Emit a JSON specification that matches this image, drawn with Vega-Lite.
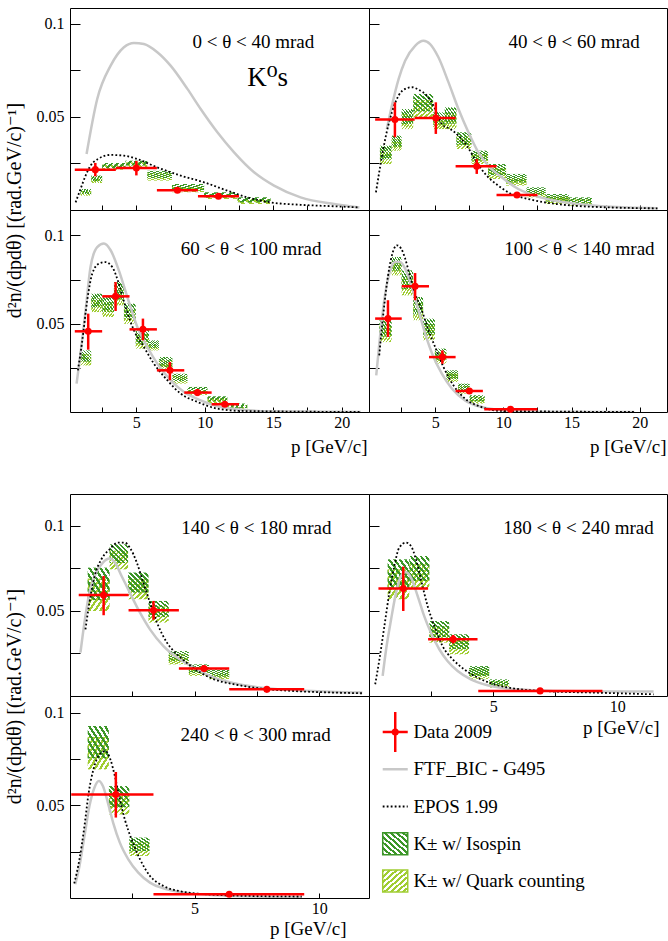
{
"$schema": "https://vega.github.io/schema/vega-lite/v6.json",
"padding": {"left": 3, "top": 7, "right": 0, "bottom": 0},
"background": "white",
"columns": 2,
"spacing": 0,
"bounds": "flush",
"config": {
  "font": "Liberation Serif, Times New Roman, DejaVu Serif, serif",
  "view": {"stroke": "black", "strokeWidth": 1},
  "axis": {"domain": false, "grid": false, "tickColor": "black", "tickWidth": 1, "labelFont": "Liberation Serif, Times New Roman, DejaVu Serif, serif", "labelFontSize": 16, "labelColor": "black", "titleFont": "Liberation Serif, Times New Roman, DejaVu Serif, serif", "titleFontSize": 19, "titleFontWeight": "normal", "titleColor": "black", "labelOverlap": false, "labelFlush": false},
  "text": {"font": "Liberation Serif, Times New Roman, DejaVu Serif, serif"},
  "point": {"opacity": 1},
  "circle": {"opacity": 1},
  "tick": {"opacity": 1}
},
"datasets": {
  "pts": [
    {"panel":"A","p":2.0,"v":0.0217,"vlo":0.0181,"vhi":0.0253,"plo":0.5,"phi":3.5},
    {"panel":"A","p":5.0,"v":0.0226,"vlo":0.0186,"vhi":0.0264,"plo":3.5,"phi":6.5},
    {"panel":"A","p":8.0,"v":0.0106,"vlo":0.0096,"vhi":0.0116,"plo":6.5,"phi":9.5},
    {"panel":"A","p":11.0,"v":0.0074,"vlo":0.0066,"vhi":0.0082,"plo":9.5,"phi":12.5},
    {"panel":"B","p":2.05,"v":0.0486,"vlo":0.0391,"vhi":0.0579,"plo":0.6,"phi":3.5},
    {"panel":"B","p":5.05,"v":0.0495,"vlo":0.0409,"vhi":0.0579,"plo":3.5,"phi":6.5},
    {"panel":"B","p":8.05,"v":0.0235,"vlo":0.0194,"vhi":0.0274,"plo":6.5,"phi":9.5},
    {"panel":"B","p":11.0,"v":0.0081,"vlo":0.0068,"vhi":0.0094,"plo":9.5,"phi":12.5},
    {"panel":"C","p":1.48,"v":0.0457,"vlo":0.0353,"vhi":0.0557,"plo":0.5,"phi":2.5},
    {"panel":"C","p":3.48,"v":0.0655,"vlo":0.0572,"vhi":0.0736,"plo":2.5,"phi":4.5},
    {"panel":"C","p":5.48,"v":0.0468,"vlo":0.0406,"vhi":0.0529,"plo":4.5,"phi":6.5},
    {"panel":"C","p":7.45,"v":0.0236,"vlo":0.018,"vhi":0.0283,"plo":6.5,"phi":8.5},
    {"panel":"C","p":9.46,"v":0.011,"vlo":0.009,"vhi":0.013,"plo":8.5,"phi":10.5},
    {"panel":"C","p":11.46,"v":0.0044,"vlo":0.0034,"vhi":0.0054,"plo":10.5,"phi":12.5},
    {"panel":"D","p":1.54,"v":0.0529,"vlo":0.0425,"vhi":0.0633,"plo":0.6,"phi":2.55},
    {"panel":"D","p":3.53,"v":0.0712,"vlo":0.0633,"vhi":0.0787,"plo":2.55,"phi":4.55},
    {"panel":"D","p":5.53,"v":0.0311,"vlo":0.0273,"vhi":0.0349,"plo":4.55,"phi":6.5},
    {"panel":"D","p":7.51,"v":0.0119,"vlo":0.0104,"vhi":0.0134,"plo":6.5,"phi":8.5},
    {"panel":"D","p":10.53,"v":0.0015,"vlo":0.0008,"vhi":0.0022,"plo":8.6,"phi":12.5},
    {"panel":"E","p":1.35,"v":0.0594,"vlo":0.0475,"vhi":0.0706,"plo":0.35,"phi":2.35},
    {"panel":"E","p":3.35,"v":0.0504,"vlo":0.0449,"vhi":0.0559,"plo":2.35,"phi":4.37},
    {"panel":"E","p":5.38,"v":0.0161,"vlo":0.0146,"vhi":0.0176,"plo":4.37,"phi":6.39},
    {"panel":"E","p":7.9,"v":0.0039,"vlo":0.0031,"vhi":0.0047,"plo":6.39,"phi":9.4},
    {"panel":"F","p":1.38,"v":0.0632,"vlo":0.05,"vhi":0.0761,"plo":0.38,"phi":2.38},
    {"panel":"F","p":3.39,"v":0.0334,"vlo":0.0309,"vhi":0.0359,"plo":2.38,"phi":4.37},
    {"panel":"F","p":6.89,"v":0.003,"vlo":0.0022,"vhi":0.0038,"plo":4.4,"phi":9.4},
    {"panel":"G","p":1.84,"v":0.0558,"vlo":0.0434,"vhi":0.068,"plo":0.05,"phi":3.35},
    {"panel":"G","p":6.39,"v":0.002,"vlo":0.0012,"vhi":0.0028,"plo":3.35,"phi":9.4}
  ],
  "boxes": [
    {"panel":"A","model":"iso","p0":0.92,"p1":1.7,"lo":0.0086,"hi":0.0113},
    {"panel":"A","model":"iso","p0":1.7,"p1":2.5,"lo":0.0155,"hi":0.0185},
    {"panel":"A","model":"iso","p0":2.5,"p1":4.2,"lo":0.0226,"hi":0.0253},
    {"panel":"A","model":"iso","p0":4.2,"p1":5.8,"lo":0.0239,"hi":0.0265},
    {"panel":"A","model":"iso","p0":5.8,"p1":7.6,"lo":0.0171,"hi":0.0211},
    {"panel":"A","model":"iso","p0":7.6,"p1":9.95,"lo":0.0106,"hi":0.014},
    {"panel":"A","model":"iso","p0":9.95,"p1":12.4,"lo":0.0068,"hi":0.0095},
    {"panel":"A","model":"iso","p0":12.4,"p1":14.8,"lo":0.0041,"hi":0.0068},
    {"panel":"A","model":"qc","p0":0.92,"p1":1.7,"lo":0.0077,"hi":0.0104},
    {"panel":"A","model":"qc","p0":1.7,"p1":2.5,"lo":0.0145,"hi":0.0175},
    {"panel":"A","model":"qc","p0":2.5,"p1":4.2,"lo":0.0217,"hi":0.0244},
    {"panel":"A","model":"qc","p0":4.2,"p1":5.8,"lo":0.023,"hi":0.0256},
    {"panel":"A","model":"qc","p0":5.8,"p1":7.6,"lo":0.0158,"hi":0.0198},
    {"panel":"A","model":"qc","p0":7.6,"p1":9.95,"lo":0.0095,"hi":0.0129},
    {"panel":"A","model":"qc","p0":9.95,"p1":12.4,"lo":0.0059,"hi":0.0086},
    {"panel":"A","model":"qc","p0":12.4,"p1":14.8,"lo":0.0032,"hi":0.0059},
    {"panel":"B","model":"iso","p0":0.95,"p1":1.81,"lo":0.0272,"hi":0.0346},
    {"panel":"B","model":"iso","p0":1.81,"p1":2.54,"lo":0.0339,"hi":0.04},
    {"panel":"B","model":"iso","p0":2.54,"p1":3.39,"lo":0.0462,"hi":0.0543},
    {"panel":"B","model":"iso","p0":3.39,"p1":4.85,"lo":0.053,"hi":0.0624},
    {"panel":"B","model":"iso","p0":4.85,"p1":5.7,"lo":0.0458,"hi":0.0525},
    {"panel":"B","model":"iso","p0":5.7,"p1":6.56,"lo":0.0464,"hi":0.0552},
    {"panel":"B","model":"iso","p0":6.56,"p1":7.66,"lo":0.035,"hi":0.0418},
    {"panel":"B","model":"iso","p0":7.66,"p1":8.88,"lo":0.0265,"hi":0.0319},
    {"panel":"B","model":"iso","p0":8.88,"p1":10.2,"lo":0.0187,"hi":0.0247},
    {"panel":"B","model":"iso","p0":10.2,"p1":11.7,"lo":0.0147,"hi":0.0194},
    {"panel":"B","model":"iso","p0":11.7,"p1":13.1,"lo":0.0081,"hi":0.0122},
    {"panel":"B","model":"iso","p0":13.1,"p1":14.8,"lo":0.0045,"hi":0.0086},
    {"panel":"B","model":"iso","p0":14.8,"p1":16.5,"lo":0.0034,"hi":0.0068},
    {"panel":"B","model":"qc","p0":0.95,"p1":1.81,"lo":0.0247,"hi":0.0321},
    {"panel":"B","model":"qc","p0":1.81,"p1":2.54,"lo":0.0319,"hi":0.038},
    {"panel":"B","model":"qc","p0":2.54,"p1":3.39,"lo":0.0435,"hi":0.0516},
    {"panel":"B","model":"qc","p0":3.39,"p1":4.85,"lo":0.0498,"hi":0.0592},
    {"panel":"B","model":"qc","p0":4.85,"p1":5.7,"lo":0.0435,"hi":0.0502},
    {"panel":"B","model":"qc","p0":5.7,"p1":6.56,"lo":0.0435,"hi":0.0523},
    {"panel":"B","model":"qc","p0":6.56,"p1":7.66,"lo":0.0328,"hi":0.0396},
    {"panel":"B","model":"qc","p0":7.66,"p1":8.88,"lo":0.0247,"hi":0.0301},
    {"panel":"B","model":"qc","p0":8.88,"p1":10.2,"lo":0.0167,"hi":0.0227},
    {"panel":"B","model":"qc","p0":10.2,"p1":11.7,"lo":0.0131,"hi":0.0178},
    {"panel":"B","model":"qc","p0":11.7,"p1":13.1,"lo":0.0068,"hi":0.0109},
    {"panel":"B","model":"qc","p0":13.1,"p1":14.8,"lo":0.0032,"hi":0.0073},
    {"panel":"B","model":"qc","p0":14.8,"p1":16.5,"lo":0.0023,"hi":0.0057},
    {"panel":"C","model":"iso","p0":0.87,"p1":1.7,"lo":0.0285,"hi":0.0349},
    {"panel":"C","model":"iso","p0":1.7,"p1":2.51,"lo":0.0592,"hi":0.067},
    {"panel":"C","model":"iso","p0":2.51,"p1":3.36,"lo":0.0566,"hi":0.0651},
    {"panel":"C","model":"iso","p0":3.36,"p1":4.09,"lo":0.0637,"hi":0.0736},
    {"panel":"C","model":"iso","p0":4.09,"p1":4.95,"lo":0.0528,"hi":0.0614},
    {"panel":"C","model":"iso","p0":4.95,"p1":5.92,"lo":0.0387,"hi":0.0472},
    {"panel":"C","model":"iso","p0":5.92,"p1":6.65,"lo":0.0363,"hi":0.0406},
    {"panel":"C","model":"iso","p0":6.65,"p1":7.63,"lo":0.0255,"hi":0.0311},
    {"panel":"C","model":"iso","p0":7.63,"p1":8.73,"lo":0.0175,"hi":0.0217},
    {"panel":"C","model":"iso","p0":8.73,"p1":10.19,"lo":0.0107,"hi":0.0142},
    {"panel":"C","model":"iso","p0":10.19,"p1":11.65,"lo":0.006,"hi":0.0089},
    {"panel":"C","model":"iso","p0":11.65,"p1":13.1,"lo":0.0023,"hi":0.0048},
    {"panel":"C","model":"qc","p0":0.87,"p1":1.7,"lo":0.0264,"hi":0.0328},
    {"panel":"C","model":"qc","p0":1.7,"p1":2.51,"lo":0.0566,"hi":0.0644},
    {"panel":"C","model":"qc","p0":2.51,"p1":3.36,"lo":0.0538,"hi":0.0623},
    {"panel":"C","model":"qc","p0":3.36,"p1":4.09,"lo":0.0604,"hi":0.0703},
    {"panel":"C","model":"qc","p0":4.09,"p1":4.95,"lo":0.05,"hi":0.0586},
    {"panel":"C","model":"qc","p0":4.95,"p1":5.92,"lo":0.0359,"hi":0.0444},
    {"panel":"C","model":"qc","p0":5.92,"p1":6.65,"lo":0.0349,"hi":0.0392},
    {"panel":"C","model":"qc","p0":6.65,"p1":7.63,"lo":0.0236,"hi":0.0292},
    {"panel":"C","model":"qc","p0":7.63,"p1":8.73,"lo":0.0161,"hi":0.0203},
    {"panel":"C","model":"qc","p0":8.73,"p1":10.19,"lo":0.0095,"hi":0.013},
    {"panel":"C","model":"qc","p0":10.19,"p1":11.65,"lo":0.0051,"hi":0.008},
    {"panel":"C","model":"qc","p0":11.65,"p1":13.1,"lo":0.0014,"hi":0.0039},
    {"panel":"D","model":"iso","p0":0.9,"p1":1.81,"lo":0.0427,"hi":0.0519},
    {"panel":"D","model":"iso","p0":1.81,"p1":2.54,"lo":0.08,"hi":0.0878},
    {"panel":"D","model":"iso","p0":2.54,"p1":3.39,"lo":0.0696,"hi":0.0802},
    {"panel":"D","model":"iso","p0":3.39,"p1":4.12,"lo":0.0552,"hi":0.0651},
    {"panel":"D","model":"iso","p0":4.12,"p1":4.98,"lo":0.0437,"hi":0.0529},
    {"panel":"D","model":"iso","p0":4.98,"p1":5.83,"lo":0.0295,"hi":0.0359},
    {"panel":"D","model":"iso","p0":5.83,"p1":6.68,"lo":0.0187,"hi":0.0236},
    {"panel":"D","model":"iso","p0":6.68,"p1":7.53,"lo":0.0118,"hi":0.0161},
    {"panel":"D","model":"iso","p0":7.53,"p1":8.63,"lo":0.006,"hi":0.0095},
    {"panel":"D","model":"qc","p0":0.9,"p1":1.81,"lo":0.0396,"hi":0.0488},
    {"panel":"D","model":"qc","p0":1.81,"p1":2.54,"lo":0.0774,"hi":0.0852},
    {"panel":"D","model":"qc","p0":2.54,"p1":3.39,"lo":0.0661,"hi":0.0767},
    {"panel":"D","model":"qc","p0":3.39,"p1":4.12,"lo":0.0519,"hi":0.0618},
    {"panel":"D","model":"qc","p0":4.12,"p1":4.98,"lo":0.0406,"hi":0.0498},
    {"panel":"D","model":"qc","p0":4.98,"p1":5.83,"lo":0.0274,"hi":0.0338},
    {"panel":"D","model":"qc","p0":5.83,"p1":6.68,"lo":0.017,"hi":0.0219},
    {"panel":"D","model":"qc","p0":6.68,"p1":7.53,"lo":0.0104,"hi":0.0147},
    {"panel":"D","model":"qc","p0":7.53,"p1":8.63,"lo":0.0048,"hi":0.0083},
    {"panel":"E","model":"iso","p0":0.71,"p1":1.59,"lo":0.0564,"hi":0.0755},
    {"panel":"E","model":"iso","p0":1.59,"p1":2.33,"lo":0.0782,"hi":0.0892},
    {"panel":"E","model":"iso","p0":2.33,"p1":3.15,"lo":0.0608,"hi":0.0726},
    {"panel":"E","model":"iso","p0":3.15,"p1":3.96,"lo":0.0464,"hi":0.0559},
    {"panel":"E","model":"iso","p0":3.96,"p1":4.77,"lo":0.0206,"hi":0.0265},
    {"panel":"E","model":"iso","p0":4.77,"p1":5.58,"lo":0.0135,"hi":0.0186},
    {"panel":"E","model":"iso","p0":5.58,"p1":6.39,"lo":0.0113,"hi":0.0157},
    {"panel":"E","model":"qc","p0":0.71,"p1":1.59,"lo":0.05,"hi":0.0691},
    {"panel":"E","model":"qc","p0":1.59,"p1":2.33,"lo":0.0745,"hi":0.0855},
    {"panel":"E","model":"qc","p0":2.33,"p1":3.15,"lo":0.0569,"hi":0.0687},
    {"panel":"E","model":"qc","p0":3.15,"p1":3.96,"lo":0.0432,"hi":0.0527},
    {"panel":"E","model":"qc","p0":3.96,"p1":4.77,"lo":0.0186,"hi":0.0245},
    {"panel":"E","model":"qc","p0":4.77,"p1":5.58,"lo":0.0118,"hi":0.0169},
    {"panel":"E","model":"qc","p0":5.58,"p1":6.39,"lo":0.0098,"hi":0.0142},
    {"panel":"F","model":"iso","p0":0.75,"p1":1.62,"lo":0.0628,"hi":0.0804},
    {"panel":"F","model":"iso","p0":1.62,"p1":2.43,"lo":0.0677,"hi":0.0824},
    {"panel":"F","model":"iso","p0":2.43,"p1":3.23,"lo":0.0346,"hi":0.0441},
    {"panel":"F","model":"iso","p0":3.23,"p1":4.03,"lo":0.0275,"hi":0.0363},
    {"panel":"F","model":"iso","p0":4.03,"p1":4.84,"lo":0.0118,"hi":0.0176},
    {"panel":"F","model":"iso","p0":4.84,"p1":5.64,"lo":0.0061,"hi":0.0098},
    {"panel":"F","model":"qc","p0":0.75,"p1":1.62,"lo":0.0569,"hi":0.0745},
    {"panel":"F","model":"qc","p0":1.62,"p1":2.43,"lo":0.0628,"hi":0.0775},
    {"panel":"F","model":"qc","p0":2.43,"p1":3.23,"lo":0.0314,"hi":0.0409},
    {"panel":"F","model":"qc","p0":3.23,"p1":4.03,"lo":0.0245,"hi":0.0333},
    {"panel":"F","model":"qc","p0":4.03,"p1":4.84,"lo":0.0098,"hi":0.0156},
    {"panel":"F","model":"qc","p0":4.84,"p1":5.64,"lo":0.0049,"hi":0.0086},
    {"panel":"G","model":"iso","p0":0.71,"p1":1.56,"lo":0.0753,"hi":0.0928},
    {"panel":"G","model":"iso","p0":1.56,"p1":2.38,"lo":0.0489,"hi":0.0604},
    {"panel":"G","model":"iso","p0":2.38,"p1":3.19,"lo":0.0252,"hi":0.0326},
    {"panel":"G","model":"qc","p0":0.71,"p1":1.56,"lo":0.0694,"hi":0.0869},
    {"panel":"G","model":"qc","p0":1.56,"p1":2.38,"lo":0.0451,"hi":0.0566},
    {"panel":"G","model":"qc","p0":2.38,"p1":3.19,"lo":0.0227,"hi":0.0301}
  ],
  "ftf": [
    {"panel":"A","p":1.36,"v":0.0301},{"panel":"A","p":2.14,"v":0.0597},{"panel":"A","p":3.12,"v":0.0776},{"panel":"A","p":4.09,"v":0.0875},{"panel":"A","p":4.82,"v":0.0898},{"panel":"A","p":5.55,"v":0.0892},{"panel":"A","p":6.53,"v":0.0848},{"panel":"A","p":7.5,"v":0.0776},{"panel":"A","p":8.73,"v":0.0651},{"panel":"A","p":9.7,"v":0.0543},{"panel":"A","p":10.92,"v":0.0418},{"panel":"A","p":12.14,"v":0.031},{"panel":"A","p":13.6,"v":0.0203},{"panel":"A","p":15.06,"v":0.0131},{"panel":"A","p":17.0,"v":0.0068},{"panel":"A","p":19.45,"v":0.0032},{"panel":"A","p":21.3,"v":0.0014},
    {"panel":"B","p":1.46,"v":0.0435},{"panel":"B","p":1.83,"v":0.0561},{"panel":"B","p":2.32,"v":0.0704},{"panel":"B","p":2.8,"v":0.0803},{"panel":"B","p":3.53,"v":0.0883},{"panel":"B","p":4.15,"v":0.091},{"panel":"B","p":4.63,"v":0.0892},{"panel":"B","p":5.24,"v":0.0821},{"panel":"B","p":5.98,"v":0.0686},{"panel":"B","p":6.71,"v":0.0543},{"panel":"B","p":7.44,"v":0.0418},{"panel":"B","p":8.17,"v":0.031},{"panel":"B","p":8.9,"v":0.0238},{"panel":"B","p":9.88,"v":0.0176},{"panel":"B","p":11.1,"v":0.0113},{"panel":"B","p":12.3,"v":0.0077},{"panel":"B","p":13.8,"v":0.005},{"panel":"B","p":15.5,"v":0.0032},{"panel":"B","p":17.2,"v":0.002},{"panel":"B","p":19.1,"v":0.0014},{"panel":"B","p":21.3,"v":0.001},
    {"panel":"C","p":0.63,"v":0.0161},{"panel":"C","p":0.92,"v":0.0331},{"panel":"C","p":1.29,"v":0.0576},{"panel":"C","p":1.65,"v":0.0821},{"panel":"C","p":2.14,"v":0.0934},{"panel":"C","p":2.63,"v":0.0954},{"panel":"C","p":3.12,"v":0.0916},{"panel":"C","p":3.72,"v":0.0802},{"panel":"C","p":4.34,"v":0.0651},{"panel":"C","p":5.07,"v":0.0481},{"panel":"C","p":5.8,"v":0.0368},{"panel":"C","p":6.53,"v":0.0274},{"panel":"C","p":7.5,"v":0.018},{"panel":"C","p":8.48,"v":0.0113},{"panel":"C","p":9.7,"v":0.0066},{"panel":"C","p":10.92,"v":0.0032},{"panel":"C","p":12.63,"v":0.0014},{"panel":"C","p":14.58,"v":0.0004},{"panel":"C","p":21.4,"v":0.0},
    {"panel":"D","p":0.68,"v":0.0208},{"panel":"D","p":0.98,"v":0.0444},{"panel":"D","p":1.34,"v":0.067},{"panel":"D","p":1.71,"v":0.0802},{"panel":"D","p":2.07,"v":0.0849},{"panel":"D","p":2.44,"v":0.0849},{"panel":"D","p":2.8,"v":0.0812},{"panel":"D","p":3.29,"v":0.0708},{"panel":"D","p":3.78,"v":0.0576},{"panel":"D","p":4.27,"v":0.0444},{"panel":"D","p":4.88,"v":0.0311},{"panel":"D","p":5.49,"v":0.0217},{"panel":"D","p":6.22,"v":0.0133},{"panel":"D","p":7.19,"v":0.0066},{"panel":"D","p":8.41,"v":0.0028},{"panel":"D","p":9.88,"v":0.001},{"panel":"D","p":12.3,"v":0.0002},{"panel":"D","p":19.6,"v":0.0},
    {"panel":"E","p":0.42,"v":0.0255},{"panel":"E","p":0.58,"v":0.0432},{"panel":"E","p":0.78,"v":0.0608},{"panel":"E","p":1.05,"v":0.0726},{"panel":"E","p":1.32,"v":0.0785},{"panel":"E","p":1.59,"v":0.0808},{"panel":"E","p":1.8,"v":0.0785},{"panel":"E","p":2.07,"v":0.0706},{"panel":"E","p":2.4,"v":0.0608},{"panel":"E","p":2.81,"v":0.049},{"panel":"E","p":3.21,"v":0.0392},{"panel":"E","p":3.75,"v":0.0294},{"panel":"E","p":4.3,"v":0.0226},{"panel":"E","p":4.97,"v":0.0167},{"panel":"E","p":5.78,"v":0.0108},{"panel":"E","p":6.59,"v":0.0075},{"panel":"E","p":7.67,"v":0.0049},{"panel":"E","p":9.02,"v":0.0034},{"panel":"E","p":10.64,"v":0.0024},{"panel":"E","p":11.73,"v":0.002},
    {"panel":"F","p":0.55,"v":0.0118},{"panel":"F","p":0.69,"v":0.0275},{"panel":"F","p":0.89,"v":0.0451},{"panel":"F","p":1.09,"v":0.0608},{"panel":"F","p":1.29,"v":0.0706},{"panel":"F","p":1.49,"v":0.0729},{"panel":"F","p":1.69,"v":0.0696},{"panel":"F","p":1.96,"v":0.0588},{"panel":"F","p":2.22,"v":0.0471},{"panel":"F","p":2.49,"v":0.0373},{"panel":"F","p":2.83,"v":0.0275},{"panel":"F","p":3.16,"v":0.0206},{"panel":"F","p":3.57,"v":0.0147},{"panel":"F","p":4.1,"v":0.0098},{"panel":"F","p":4.77,"v":0.0063},{"panel":"F","p":5.57,"v":0.0044},{"panel":"F","p":6.64,"v":0.0034},{"panel":"F","p":8.39,"v":0.0028},{"panel":"F","p":11.46,"v":0.0026},
    {"panel":"G","p":0.21,"v":0.0074},{"panel":"G","p":0.38,"v":0.0173},{"panel":"G","p":0.58,"v":0.0334},{"panel":"G","p":0.78,"v":0.0496},{"panel":"G","p":0.98,"v":0.0595},{"panel":"G","p":1.16,"v":0.0631},{"panel":"G","p":1.32,"v":0.0604},{"panel":"G","p":1.52,"v":0.0515},{"panel":"G","p":1.73,"v":0.0407},{"panel":"G","p":2.0,"v":0.0299},{"panel":"G","p":2.34,"v":0.0209},{"panel":"G","p":2.74,"v":0.0137},{"panel":"G","p":3.21,"v":0.0083},{"panel":"G","p":3.89,"v":0.0047},{"panel":"G","p":4.84,"v":0.0025},{"panel":"G","p":5.92,"v":0.0015},{"panel":"G","p":7.27,"v":0.0008},{"panel":"G","p":9.3,"v":0.0004}
  ],
  "epos": [
    {"panel":"A","p":0.56,"v":0.0041},{"panel":"A","p":0.92,"v":0.0113},{"panel":"A","p":1.29,"v":0.0185},{"panel":"A","p":1.65,"v":0.0238},{"panel":"A","p":2.2,"v":0.0275},{"panel":"A","p":3.12,"v":0.0296},{"panel":"A","p":4.1,"v":0.0292},{"panel":"A","p":5.07,"v":0.0274},{"panel":"A","p":6.53,"v":0.0229},{"panel":"A","p":8.24,"v":0.0185},{"panel":"A","p":9.94,"v":0.0149},{"panel":"A","p":11.65,"v":0.0104},{"panel":"A","p":13.1,"v":0.0068},{"panel":"A","p":14.8,"v":0.0041},{"panel":"A","p":17.0,"v":0.0028},{"panel":"A","p":19.45,"v":0.002},{"panel":"A","p":21.3,"v":0.0014},
    {"panel":"B","p":0.66,"v":0.0095},{"panel":"B","p":0.98,"v":0.0238},{"panel":"B","p":1.34,"v":0.0382},{"panel":"B","p":1.83,"v":0.0525},{"panel":"B","p":2.32,"v":0.0615},{"panel":"B","p":2.8,"v":0.0651},{"panel":"B","p":3.29,"v":0.066},{"panel":"B","p":3.78,"v":0.0647},{"panel":"B","p":4.39,"v":0.0615},{"panel":"B","p":4.88,"v":0.0561},{"panel":"B","p":5.49,"v":0.0462},{"panel":"B","p":6.1,"v":0.0435},{"panel":"B","p":6.71,"v":0.04},{"panel":"B","p":7.32,"v":0.0346},{"panel":"B","p":8.05,"v":0.0256},{"panel":"B","p":8.78,"v":0.0185},{"panel":"B","p":9.63,"v":0.0131},{"panel":"B","p":10.6,"v":0.0086},{"panel":"B","p":11.83,"v":0.0059},{"panel":"B","p":13.3,"v":0.0038},{"panel":"B","p":15.2,"v":0.0023},{"panel":"B","p":17.7,"v":0.0014},{"panel":"B","p":21.3,"v":0.0009},
    {"panel":"C","p":0.73,"v":0.0236},{"panel":"C","p":1.05,"v":0.0406},{"panel":"C","p":1.41,"v":0.0633},{"panel":"C","p":1.78,"v":0.0784},{"panel":"C","p":2.26,"v":0.084},{"panel":"C","p":2.75,"v":0.0849},{"panel":"C","p":3.24,"v":0.0821},{"panel":"C","p":3.72,"v":0.0727},{"panel":"C","p":4.21,"v":0.0595},{"panel":"C","p":4.82,"v":0.0463},{"panel":"C","p":5.55,"v":0.0368},{"panel":"C","p":6.28,"v":0.0274},{"panel":"C","p":7.26,"v":0.018},{"panel":"C","p":8.24,"v":0.0104},{"panel":"C","p":9.46,"v":0.0057},{"panel":"C","p":10.92,"v":0.0019},{"panel":"C","p":12.63,"v":0.0006},{"panel":"C","p":21.4,"v":0.0},
    {"panel":"D","p":0.9,"v":0.0321},{"panel":"D","p":1.15,"v":0.0519},{"panel":"D","p":1.46,"v":0.0727},{"panel":"D","p":1.83,"v":0.0887},{"panel":"D","p":2.19,"v":0.0944},{"panel":"D","p":2.51,"v":0.0925},{"panel":"D","p":2.8,"v":0.0869},{"panel":"D","p":3.17,"v":0.0764},{"panel":"D","p":3.53,"v":0.067},{"panel":"D","p":4.02,"v":0.0576},{"panel":"D","p":4.51,"v":0.0463},{"panel":"D","p":5.0,"v":0.0368},{"panel":"D","p":5.61,"v":0.0255},{"panel":"D","p":6.34,"v":0.0151},{"panel":"D","p":7.19,"v":0.0076},{"panel":"D","p":8.41,"v":0.0028},{"panel":"D","p":9.88,"v":0.0006},{"panel":"D","p":19.6,"v":0.0},
    {"panel":"E","p":0.62,"v":0.0392},{"panel":"E","p":0.78,"v":0.0549},{"panel":"E","p":0.99,"v":0.0706},{"panel":"E","p":1.26,"v":0.0804},{"panel":"E","p":1.59,"v":0.0863},{"panel":"E","p":1.93,"v":0.0902},{"panel":"E","p":2.2,"v":0.0902},{"panel":"E","p":2.4,"v":0.0873},{"panel":"E","p":2.68,"v":0.0785},{"panel":"E","p":2.94,"v":0.0667},{"panel":"E","p":3.21,"v":0.0549},{"panel":"E","p":3.49,"v":0.0432},{"panel":"E","p":3.89,"v":0.0314},{"panel":"E","p":4.3,"v":0.0245},{"panel":"E","p":4.77,"v":0.0186},{"panel":"E","p":5.24,"v":0.0138},{"panel":"E","p":5.78,"v":0.0098},{"panel":"E","p":6.59,"v":0.0069},{"panel":"E","p":7.67,"v":0.0044},{"panel":"E","p":9.02,"v":0.0029},{"panel":"E","p":10.64,"v":0.002},{"panel":"E","p":11.73,"v":0.0016},
    {"panel":"F","p":0.25,"v":0.0069},{"panel":"F","p":0.42,"v":0.0216},{"panel":"F","p":0.62,"v":0.0412},{"panel":"F","p":0.82,"v":0.0608},{"panel":"F","p":1.02,"v":0.0765},{"panel":"F","p":1.22,"v":0.0873},{"panel":"F","p":1.49,"v":0.0902},{"panel":"F","p":1.69,"v":0.0882},{"panel":"F","p":1.89,"v":0.0804},{"panel":"F","p":2.09,"v":0.0686},{"panel":"F","p":2.36,"v":0.0529},{"panel":"F","p":2.63,"v":0.0412},{"panel":"F","p":2.96,"v":0.0294},{"panel":"F","p":3.37,"v":0.0216},{"panel":"F","p":3.83,"v":0.0157},{"panel":"F","p":4.37,"v":0.0108},{"panel":"F","p":5.04,"v":0.0069},{"panel":"F","p":5.84,"v":0.0044},{"panel":"F","p":7.18,"v":0.0028},{"panel":"F","p":9.05,"v":0.002},{"panel":"F","p":11.46,"v":0.001},
    {"panel":"G","p":0.17,"v":0.0079},{"panel":"G","p":0.38,"v":0.0209},{"panel":"G","p":0.58,"v":0.0388},{"panel":"G","p":0.75,"v":0.0568},{"panel":"G","p":0.94,"v":0.0694},{"panel":"G","p":1.19,"v":0.0775},{"panel":"G","p":1.43,"v":0.0793},{"panel":"G","p":1.62,"v":0.0748},{"panel":"G","p":1.8,"v":0.0658},{"panel":"G","p":2.0,"v":0.0532},{"panel":"G","p":2.2,"v":0.0424},{"panel":"G","p":2.47,"v":0.0317},{"panel":"G","p":2.81,"v":0.0209},{"panel":"G","p":3.21,"v":0.0119},{"panel":"G","p":3.75,"v":0.0065},{"panel":"G","p":4.43,"v":0.0036},{"panel":"G","p":5.51,"v":0.002},{"panel":"G","p":7.27,"v":0.0011},{"panel":"G","p":9.3,"v":0.0008}
  ],
  "titles": [
    {"panel":"A","kind":"range","label":"0 < θ < 40 mrad"},
    {"panel":"A","kind":"particle","label":"K⁰s"},
    {"panel":"B","kind":"range","label":"40 < θ < 60 mrad"},
    {"panel":"C","kind":"range","label":"60 < θ < 100 mrad"},
    {"panel":"D","kind":"range","label":"100 < θ < 140 mrad"},
    {"panel":"E","kind":"range","label":"140 < θ < 180 mrad"},
    {"panel":"F","kind":"range","label":"180 < θ < 240 mrad"},
    {"panel":"G","kind":"range","label":"240 < θ < 300 mrad"}
  ],
  "legend": [
    {"item":"data","order":1,"label":"Data 2009"},
    {"item":"ftf","order":2,"label":"FTF_BIC - G495"},
    {"item":"epos","order":3,"label":"EPOS 1.99"},
    {"item":"iso","order":4,"label":"K± w/ Isospin"},
    {"item":"qc","order":5,"label":"K± w/ Quark counting"}
  ]
},
"concat": [
{
 "width": 299, "height": 202,
 "layer": [
  {"data":{"name":"boxes"},"transform":[{"filter":"datum.panel == 'A' && datum.model == 'qc'"}],
   "mark":{"type":"rect","fill":{"gradient":"linear","x1":0,"y1":0,"x2":1,"y2":1,"stops":[{"offset":0,"color":"#a0cd32"},{"offset":0.0625,"color":"#a0cd32"},{"offset":0.0625,"color":"rgba(255,255,255,0)"},{"offset":0.125,"color":"rgba(255,255,255,0)"},{"offset":0.125,"color":"#a0cd32"},{"offset":0.1875,"color":"#a0cd32"},{"offset":0.1875,"color":"rgba(255,255,255,0)"},{"offset":0.25,"color":"rgba(255,255,255,0)"},{"offset":0.25,"color":"#a0cd32"},{"offset":0.3125,"color":"#a0cd32"},{"offset":0.3125,"color":"rgba(255,255,255,0)"},{"offset":0.375,"color":"rgba(255,255,255,0)"},{"offset":0.375,"color":"#a0cd32"},{"offset":0.4375,"color":"#a0cd32"},{"offset":0.4375,"color":"rgba(255,255,255,0)"},{"offset":0.5,"color":"rgba(255,255,255,0)"},{"offset":0.5,"color":"#a0cd32"},{"offset":0.5625,"color":"#a0cd32"},{"offset":0.5625,"color":"rgba(255,255,255,0)"},{"offset":0.625,"color":"rgba(255,255,255,0)"},{"offset":0.625,"color":"#a0cd32"},{"offset":0.6875,"color":"#a0cd32"},{"offset":0.6875,"color":"rgba(255,255,255,0)"},{"offset":0.75,"color":"rgba(255,255,255,0)"},{"offset":0.75,"color":"#a0cd32"},{"offset":0.8125,"color":"#a0cd32"},{"offset":0.8125,"color":"rgba(255,255,255,0)"},{"offset":0.875,"color":"rgba(255,255,255,0)"},{"offset":0.875,"color":"#a0cd32"},{"offset":0.9375,"color":"#a0cd32"},{"offset":0.9375,"color":"rgba(255,255,255,0)"},{"offset":1,"color":"rgba(255,255,255,0)"}]}},
   "encoding":{
     "x":{"field":"p0","type":"quantitative","scale":{"domain":[0.15,22],"nice":false,"zero":false},"axis":{"values":[2.5,5,7.5,10,12.5,15,17.5,20],"labels":false,"title":null,"tickSize":-5}},
     "x2":{"field":"p1"},
     "y":{"field":"lo","type":"quantitative","scale":{"domain":[0,0.1086],"nice":false,"zero":false},"axis":{"values":[0.025,0.05,0.075,0.1],"labelExpr":"datum.value == 0.05 || datum.value == 0.1 ? datum.label : ''","format":"~g","tickSize":-10,"labelPadding":16,"title":"d²n/(dpdθ) [(rad.GeV/c)⁻¹]","titleX":-56,"titleY":202,"titleAngle":-90,"titleAlign":"center","titleBaseline":"middle","titleFontSize":20}},
     "y2":{"field":"hi"}}},
  {"data":{"name":"boxes"},"transform":[{"filter":"datum.panel == 'A' && datum.model == 'iso'"}],
   "mark":{"type":"rect","fill":{"gradient":"linear","x1":0,"y1":1,"x2":1,"y2":0,"stops":[{"offset":0,"color":"#3c9628"},{"offset":0.0625,"color":"#3c9628"},{"offset":0.0625,"color":"rgba(255,255,255,0)"},{"offset":0.125,"color":"rgba(255,255,255,0)"},{"offset":0.125,"color":"#3c9628"},{"offset":0.1875,"color":"#3c9628"},{"offset":0.1875,"color":"rgba(255,255,255,0)"},{"offset":0.25,"color":"rgba(255,255,255,0)"},{"offset":0.25,"color":"#3c9628"},{"offset":0.3125,"color":"#3c9628"},{"offset":0.3125,"color":"rgba(255,255,255,0)"},{"offset":0.375,"color":"rgba(255,255,255,0)"},{"offset":0.375,"color":"#3c9628"},{"offset":0.4375,"color":"#3c9628"},{"offset":0.4375,"color":"rgba(255,255,255,0)"},{"offset":0.5,"color":"rgba(255,255,255,0)"},{"offset":0.5,"color":"#3c9628"},{"offset":0.5625,"color":"#3c9628"},{"offset":0.5625,"color":"rgba(255,255,255,0)"},{"offset":0.625,"color":"rgba(255,255,255,0)"},{"offset":0.625,"color":"#3c9628"},{"offset":0.6875,"color":"#3c9628"},{"offset":0.6875,"color":"rgba(255,255,255,0)"},{"offset":0.75,"color":"rgba(255,255,255,0)"},{"offset":0.75,"color":"#3c9628"},{"offset":0.8125,"color":"#3c9628"},{"offset":0.8125,"color":"rgba(255,255,255,0)"},{"offset":0.875,"color":"rgba(255,255,255,0)"},{"offset":0.875,"color":"#3c9628"},{"offset":0.9375,"color":"#3c9628"},{"offset":0.9375,"color":"rgba(255,255,255,0)"},{"offset":1,"color":"rgba(255,255,255,0)"}]}},
   "encoding":{"x":{"field":"p0","type":"quantitative"},"x2":{"field":"p1"},"y":{"field":"lo","type":"quantitative"},"y2":{"field":"hi"}}},
  {"data":{"name":"ftf"},"transform":[{"filter":"datum.panel == 'A'"}],"mark":{"type":"line","color":"#c8c8c8","strokeWidth":2.5,"interpolate":"monotone","clip":true},"encoding":{"x":{"field":"p","type":"quantitative"},"y":{"field":"v","type":"quantitative"}}},
  {"data":{"name":"epos"},"transform":[{"filter":"datum.panel == 'A'"}],"mark":{"type":"line","color":"black","strokeWidth":1.8,"strokeDash":[1.8,2.2],"interpolate":"monotone","clip":true},"encoding":{"x":{"field":"p","type":"quantitative"},"y":{"field":"v","type":"quantitative"}}},
  {"data":{"name":"pts"},"transform":[{"filter":"datum.panel == 'A'"}],"mark":{"type":"rule","color":"#ff0000","strokeWidth":2.5},"encoding":{"x":{"field":"plo","type":"quantitative"},"x2":{"field":"phi"},"y":{"field":"v","type":"quantitative"}}},
  {"data":{"name":"pts"},"transform":[{"filter":"datum.panel == 'A'"}],"mark":{"type":"rule","color":"#ff0000","strokeWidth":2.5},"encoding":{"x":{"field":"p","type":"quantitative"},"y":{"field":"vlo","type":"quantitative"},"y2":{"field":"vhi"}}},
  {"data":{"name":"pts"},"transform":[{"filter":"datum.panel == 'A'"}],"mark":{"type":"circle","color":"#ff0000","size":50},"encoding":{"x":{"field":"p","type":"quantitative"},"y":{"field":"v","type":"quantitative"}}},
  {"data":{"name":"titles"},"transform":[{"filter":"datum.panel == 'A' && datum.kind == 'range'"}],"mark":{"type":"text","align":"left","baseline":"alphabetic","fontSize":19,"color":"black"},"encoding":{"x":{"datum":9.1,"type":"quantitative"},"y":{"datum":0.087,"type":"quantitative"},"text":{"field":"label"}}},
  {"data":{"name":"titles"},"transform":[{"filter":"datum.panel == 'A' && datum.kind == 'particle'"}],"mark":{"type":"text","align":"left","baseline":"alphabetic","fontSize":27,"color":"black"},"encoding":{"x":{"datum":13.1,"type":"quantitative"},"y":{"datum":0.0665,"type":"quantitative"},"text":{"field":"label"}}}
 ]
},
{
 "width": 298, "height": 202,
 "layer": [
  {"data":{"name":"boxes"},"transform":[{"filter":"datum.panel == 'B' && datum.model == 'qc'"}],
   "mark":{"type":"rect","fill":{"gradient":"linear","x1":0,"y1":0,"x2":1,"y2":1,"stops":[{"offset":0,"color":"#a0cd32"},{"offset":0.0625,"color":"#a0cd32"},{"offset":0.0625,"color":"rgba(255,255,255,0)"},{"offset":0.125,"color":"rgba(255,255,255,0)"},{"offset":0.125,"color":"#a0cd32"},{"offset":0.1875,"color":"#a0cd32"},{"offset":0.1875,"color":"rgba(255,255,255,0)"},{"offset":0.25,"color":"rgba(255,255,255,0)"},{"offset":0.25,"color":"#a0cd32"},{"offset":0.3125,"color":"#a0cd32"},{"offset":0.3125,"color":"rgba(255,255,255,0)"},{"offset":0.375,"color":"rgba(255,255,255,0)"},{"offset":0.375,"color":"#a0cd32"},{"offset":0.4375,"color":"#a0cd32"},{"offset":0.4375,"color":"rgba(255,255,255,0)"},{"offset":0.5,"color":"rgba(255,255,255,0)"},{"offset":0.5,"color":"#a0cd32"},{"offset":0.5625,"color":"#a0cd32"},{"offset":0.5625,"color":"rgba(255,255,255,0)"},{"offset":0.625,"color":"rgba(255,255,255,0)"},{"offset":0.625,"color":"#a0cd32"},{"offset":0.6875,"color":"#a0cd32"},{"offset":0.6875,"color":"rgba(255,255,255,0)"},{"offset":0.75,"color":"rgba(255,255,255,0)"},{"offset":0.75,"color":"#a0cd32"},{"offset":0.8125,"color":"#a0cd32"},{"offset":0.8125,"color":"rgba(255,255,255,0)"},{"offset":0.875,"color":"rgba(255,255,255,0)"},{"offset":0.875,"color":"#a0cd32"},{"offset":0.9375,"color":"#a0cd32"},{"offset":0.9375,"color":"rgba(255,255,255,0)"},{"offset":1,"color":"rgba(255,255,255,0)"}]}},
   "encoding":{
     "x":{"field":"p0","type":"quantitative","scale":{"domain":[0.15,22],"nice":false,"zero":false},"axis":{"values":[2.5,5,7.5,10,12.5,15,17.5,20],"labels":false,"title":null,"tickSize":-5}},
     "x2":{"field":"p1"},
     "y":{"field":"lo","type":"quantitative","scale":{"domain":[0,0.1086],"nice":false,"zero":false},"axis":{"values":[0.025,0.05,0.075,0.1],"labels":false,"tickSize":-10,"title":null}},
     "y2":{"field":"hi"}}},
  {"data":{"name":"boxes"},"transform":[{"filter":"datum.panel == 'B' && datum.model == 'iso'"}],
   "mark":{"type":"rect","fill":{"gradient":"linear","x1":0,"y1":1,"x2":1,"y2":0,"stops":[{"offset":0,"color":"#3c9628"},{"offset":0.0625,"color":"#3c9628"},{"offset":0.0625,"color":"rgba(255,255,255,0)"},{"offset":0.125,"color":"rgba(255,255,255,0)"},{"offset":0.125,"color":"#3c9628"},{"offset":0.1875,"color":"#3c9628"},{"offset":0.1875,"color":"rgba(255,255,255,0)"},{"offset":0.25,"color":"rgba(255,255,255,0)"},{"offset":0.25,"color":"#3c9628"},{"offset":0.3125,"color":"#3c9628"},{"offset":0.3125,"color":"rgba(255,255,255,0)"},{"offset":0.375,"color":"rgba(255,255,255,0)"},{"offset":0.375,"color":"#3c9628"},{"offset":0.4375,"color":"#3c9628"},{"offset":0.4375,"color":"rgba(255,255,255,0)"},{"offset":0.5,"color":"rgba(255,255,255,0)"},{"offset":0.5,"color":"#3c9628"},{"offset":0.5625,"color":"#3c9628"},{"offset":0.5625,"color":"rgba(255,255,255,0)"},{"offset":0.625,"color":"rgba(255,255,255,0)"},{"offset":0.625,"color":"#3c9628"},{"offset":0.6875,"color":"#3c9628"},{"offset":0.6875,"color":"rgba(255,255,255,0)"},{"offset":0.75,"color":"rgba(255,255,255,0)"},{"offset":0.75,"color":"#3c9628"},{"offset":0.8125,"color":"#3c9628"},{"offset":0.8125,"color":"rgba(255,255,255,0)"},{"offset":0.875,"color":"rgba(255,255,255,0)"},{"offset":0.875,"color":"#3c9628"},{"offset":0.9375,"color":"#3c9628"},{"offset":0.9375,"color":"rgba(255,255,255,0)"},{"offset":1,"color":"rgba(255,255,255,0)"}]}},
   "encoding":{"x":{"field":"p0","type":"quantitative"},"x2":{"field":"p1"},"y":{"field":"lo","type":"quantitative"},"y2":{"field":"hi"}}},
  {"data":{"name":"ftf"},"transform":[{"filter":"datum.panel == 'B'"}],"mark":{"type":"line","color":"#c8c8c8","strokeWidth":2.5,"interpolate":"monotone","clip":true},"encoding":{"x":{"field":"p","type":"quantitative"},"y":{"field":"v","type":"quantitative"}}},
  {"data":{"name":"epos"},"transform":[{"filter":"datum.panel == 'B'"}],"mark":{"type":"line","color":"black","strokeWidth":1.8,"strokeDash":[1.8,2.2],"interpolate":"monotone","clip":true},"encoding":{"x":{"field":"p","type":"quantitative"},"y":{"field":"v","type":"quantitative"}}},
  {"data":{"name":"pts"},"transform":[{"filter":"datum.panel == 'B'"}],"mark":{"type":"rule","color":"#ff0000","strokeWidth":2.5},"encoding":{"x":{"field":"plo","type":"quantitative"},"x2":{"field":"phi"},"y":{"field":"v","type":"quantitative"}}},
  {"data":{"name":"pts"},"transform":[{"filter":"datum.panel == 'B'"}],"mark":{"type":"rule","color":"#ff0000","strokeWidth":2.5},"encoding":{"x":{"field":"p","type":"quantitative"},"y":{"field":"vlo","type":"quantitative"},"y2":{"field":"vhi"}}},
  {"data":{"name":"pts"},"transform":[{"filter":"datum.panel == 'B'"}],"mark":{"type":"circle","color":"#ff0000","size":50},"encoding":{"x":{"field":"p","type":"quantitative"},"y":{"field":"v","type":"quantitative"}}},
  {"data":{"name":"titles"},"transform":[{"filter":"datum.panel == 'B'"}],"mark":{"type":"text","align":"left","baseline":"alphabetic","fontSize":19,"color":"black"},"encoding":{"x":{"datum":10.37,"type":"quantitative"},"y":{"datum":0.087,"type":"quantitative"},"text":{"field":"label"}}}
 ]
},
{
 "width": 299, "height": 202,
 "layer": [
  {"data":{"name":"boxes"},"transform":[{"filter":"datum.panel == 'C' && datum.model == 'qc'"}],
   "mark":{"type":"rect","fill":{"gradient":"linear","x1":0,"y1":0,"x2":1,"y2":1,"stops":[{"offset":0,"color":"#a0cd32"},{"offset":0.0625,"color":"#a0cd32"},{"offset":0.0625,"color":"rgba(255,255,255,0)"},{"offset":0.125,"color":"rgba(255,255,255,0)"},{"offset":0.125,"color":"#a0cd32"},{"offset":0.1875,"color":"#a0cd32"},{"offset":0.1875,"color":"rgba(255,255,255,0)"},{"offset":0.25,"color":"rgba(255,255,255,0)"},{"offset":0.25,"color":"#a0cd32"},{"offset":0.3125,"color":"#a0cd32"},{"offset":0.3125,"color":"rgba(255,255,255,0)"},{"offset":0.375,"color":"rgba(255,255,255,0)"},{"offset":0.375,"color":"#a0cd32"},{"offset":0.4375,"color":"#a0cd32"},{"offset":0.4375,"color":"rgba(255,255,255,0)"},{"offset":0.5,"color":"rgba(255,255,255,0)"},{"offset":0.5,"color":"#a0cd32"},{"offset":0.5625,"color":"#a0cd32"},{"offset":0.5625,"color":"rgba(255,255,255,0)"},{"offset":0.625,"color":"rgba(255,255,255,0)"},{"offset":0.625,"color":"#a0cd32"},{"offset":0.6875,"color":"#a0cd32"},{"offset":0.6875,"color":"rgba(255,255,255,0)"},{"offset":0.75,"color":"rgba(255,255,255,0)"},{"offset":0.75,"color":"#a0cd32"},{"offset":0.8125,"color":"#a0cd32"},{"offset":0.8125,"color":"rgba(255,255,255,0)"},{"offset":0.875,"color":"rgba(255,255,255,0)"},{"offset":0.875,"color":"#a0cd32"},{"offset":0.9375,"color":"#a0cd32"},{"offset":0.9375,"color":"rgba(255,255,255,0)"},{"offset":1,"color":"rgba(255,255,255,0)"}]}},
   "encoding":{
     "x":{"field":"p0","type":"quantitative","scale":{"domain":[0.15,22],"nice":false,"zero":false},"axis":{"values":[2.5,5,7.5,10,12.5,15,17.5,20],"labelExpr":"datum.value % 5 == 0 ? datum.label : ''","format":"~g","labelPadding":7,"tickSize":-5,"title":"p [GeV/c]","titleX":297,"titleY":40,"titleAlign":"right","titleBaseline":"alphabetic"}},
     "x2":{"field":"p1"},
     "y":{"field":"lo","type":"quantitative","scale":{"domain":[0,0.1144],"nice":false,"zero":false},"axis":{"values":[0.025,0.05,0.075,0.1],"labelExpr":"datum.value == 0.05 || datum.value == 0.1 ? datum.label : ''","format":"~g","tickSize":-10,"labelPadding":16,"title":null}},
     "y2":{"field":"hi"}}},
  {"data":{"name":"boxes"},"transform":[{"filter":"datum.panel == 'C' && datum.model == 'iso'"}],
   "mark":{"type":"rect","fill":{"gradient":"linear","x1":0,"y1":1,"x2":1,"y2":0,"stops":[{"offset":0,"color":"#3c9628"},{"offset":0.0625,"color":"#3c9628"},{"offset":0.0625,"color":"rgba(255,255,255,0)"},{"offset":0.125,"color":"rgba(255,255,255,0)"},{"offset":0.125,"color":"#3c9628"},{"offset":0.1875,"color":"#3c9628"},{"offset":0.1875,"color":"rgba(255,255,255,0)"},{"offset":0.25,"color":"rgba(255,255,255,0)"},{"offset":0.25,"color":"#3c9628"},{"offset":0.3125,"color":"#3c9628"},{"offset":0.3125,"color":"rgba(255,255,255,0)"},{"offset":0.375,"color":"rgba(255,255,255,0)"},{"offset":0.375,"color":"#3c9628"},{"offset":0.4375,"color":"#3c9628"},{"offset":0.4375,"color":"rgba(255,255,255,0)"},{"offset":0.5,"color":"rgba(255,255,255,0)"},{"offset":0.5,"color":"#3c9628"},{"offset":0.5625,"color":"#3c9628"},{"offset":0.5625,"color":"rgba(255,255,255,0)"},{"offset":0.625,"color":"rgba(255,255,255,0)"},{"offset":0.625,"color":"#3c9628"},{"offset":0.6875,"color":"#3c9628"},{"offset":0.6875,"color":"rgba(255,255,255,0)"},{"offset":0.75,"color":"rgba(255,255,255,0)"},{"offset":0.75,"color":"#3c9628"},{"offset":0.8125,"color":"#3c9628"},{"offset":0.8125,"color":"rgba(255,255,255,0)"},{"offset":0.875,"color":"rgba(255,255,255,0)"},{"offset":0.875,"color":"#3c9628"},{"offset":0.9375,"color":"#3c9628"},{"offset":0.9375,"color":"rgba(255,255,255,0)"},{"offset":1,"color":"rgba(255,255,255,0)"}]}},
   "encoding":{"x":{"field":"p0","type":"quantitative"},"x2":{"field":"p1"},"y":{"field":"lo","type":"quantitative"},"y2":{"field":"hi"}}},
  {"data":{"name":"ftf"},"transform":[{"filter":"datum.panel == 'C'"}],"mark":{"type":"line","color":"#c8c8c8","strokeWidth":2.5,"interpolate":"monotone","clip":true},"encoding":{"x":{"field":"p","type":"quantitative"},"y":{"field":"v","type":"quantitative"}}},
  {"data":{"name":"epos"},"transform":[{"filter":"datum.panel == 'C'"}],"mark":{"type":"line","color":"black","strokeWidth":1.8,"strokeDash":[1.8,2.2],"interpolate":"monotone","clip":true},"encoding":{"x":{"field":"p","type":"quantitative"},"y":{"field":"v","type":"quantitative"}}},
  {"data":{"name":"pts"},"transform":[{"filter":"datum.panel == 'C'"}],"mark":{"type":"rule","color":"#ff0000","strokeWidth":2.5},"encoding":{"x":{"field":"plo","type":"quantitative"},"x2":{"field":"phi"},"y":{"field":"v","type":"quantitative"}}},
  {"data":{"name":"pts"},"transform":[{"filter":"datum.panel == 'C'"}],"mark":{"type":"rule","color":"#ff0000","strokeWidth":2.5},"encoding":{"x":{"field":"p","type":"quantitative"},"y":{"field":"vlo","type":"quantitative"},"y2":{"field":"vhi"}}},
  {"data":{"name":"pts"},"transform":[{"filter":"datum.panel == 'C'"}],"mark":{"type":"circle","color":"#ff0000","size":50},"encoding":{"x":{"field":"p","type":"quantitative"},"y":{"field":"v","type":"quantitative"}}},
  {"data":{"name":"titles"},"transform":[{"filter":"datum.panel == 'C'"}],"mark":{"type":"text","align":"left","baseline":"alphabetic","fontSize":19,"color":"black"},"encoding":{"x":{"datum":8.24,"type":"quantitative"},"y":{"datum":0.0887,"type":"quantitative"},"text":{"field":"label"}}}
 ]
},
{
 "width": 298, "height": 202,
 "layer": [
  {"data":{"name":"boxes"},"transform":[{"filter":"datum.panel == 'D' && datum.model == 'qc'"}],
   "mark":{"type":"rect","fill":{"gradient":"linear","x1":0,"y1":0,"x2":1,"y2":1,"stops":[{"offset":0,"color":"#a0cd32"},{"offset":0.0625,"color":"#a0cd32"},{"offset":0.0625,"color":"rgba(255,255,255,0)"},{"offset":0.125,"color":"rgba(255,255,255,0)"},{"offset":0.125,"color":"#a0cd32"},{"offset":0.1875,"color":"#a0cd32"},{"offset":0.1875,"color":"rgba(255,255,255,0)"},{"offset":0.25,"color":"rgba(255,255,255,0)"},{"offset":0.25,"color":"#a0cd32"},{"offset":0.3125,"color":"#a0cd32"},{"offset":0.3125,"color":"rgba(255,255,255,0)"},{"offset":0.375,"color":"rgba(255,255,255,0)"},{"offset":0.375,"color":"#a0cd32"},{"offset":0.4375,"color":"#a0cd32"},{"offset":0.4375,"color":"rgba(255,255,255,0)"},{"offset":0.5,"color":"rgba(255,255,255,0)"},{"offset":0.5,"color":"#a0cd32"},{"offset":0.5625,"color":"#a0cd32"},{"offset":0.5625,"color":"rgba(255,255,255,0)"},{"offset":0.625,"color":"rgba(255,255,255,0)"},{"offset":0.625,"color":"#a0cd32"},{"offset":0.6875,"color":"#a0cd32"},{"offset":0.6875,"color":"rgba(255,255,255,0)"},{"offset":0.75,"color":"rgba(255,255,255,0)"},{"offset":0.75,"color":"#a0cd32"},{"offset":0.8125,"color":"#a0cd32"},{"offset":0.8125,"color":"rgba(255,255,255,0)"},{"offset":0.875,"color":"rgba(255,255,255,0)"},{"offset":0.875,"color":"#a0cd32"},{"offset":0.9375,"color":"#a0cd32"},{"offset":0.9375,"color":"rgba(255,255,255,0)"},{"offset":1,"color":"rgba(255,255,255,0)"}]}},
   "encoding":{
     "x":{"field":"p0","type":"quantitative","scale":{"domain":[0.15,22],"nice":false,"zero":false},"axis":{"values":[2.5,5,7.5,10,12.5,15,17.5,20],"labelExpr":"datum.value % 5 == 0 ? datum.label : ''","format":"~g","labelPadding":7,"tickSize":-5,"title":"p [GeV/c]","titleX":297,"titleY":40,"titleAlign":"right","titleBaseline":"alphabetic"}},
     "x2":{"field":"p1"},
     "y":{"field":"lo","type":"quantitative","scale":{"domain":[0,0.1144],"nice":false,"zero":false},"axis":{"values":[0.025,0.05,0.075,0.1],"labels":false,"tickSize":-10,"title":null}},
     "y2":{"field":"hi"}}},
  {"data":{"name":"boxes"},"transform":[{"filter":"datum.panel == 'D' && datum.model == 'iso'"}],
   "mark":{"type":"rect","fill":{"gradient":"linear","x1":0,"y1":1,"x2":1,"y2":0,"stops":[{"offset":0,"color":"#3c9628"},{"offset":0.0625,"color":"#3c9628"},{"offset":0.0625,"color":"rgba(255,255,255,0)"},{"offset":0.125,"color":"rgba(255,255,255,0)"},{"offset":0.125,"color":"#3c9628"},{"offset":0.1875,"color":"#3c9628"},{"offset":0.1875,"color":"rgba(255,255,255,0)"},{"offset":0.25,"color":"rgba(255,255,255,0)"},{"offset":0.25,"color":"#3c9628"},{"offset":0.3125,"color":"#3c9628"},{"offset":0.3125,"color":"rgba(255,255,255,0)"},{"offset":0.375,"color":"rgba(255,255,255,0)"},{"offset":0.375,"color":"#3c9628"},{"offset":0.4375,"color":"#3c9628"},{"offset":0.4375,"color":"rgba(255,255,255,0)"},{"offset":0.5,"color":"rgba(255,255,255,0)"},{"offset":0.5,"color":"#3c9628"},{"offset":0.5625,"color":"#3c9628"},{"offset":0.5625,"color":"rgba(255,255,255,0)"},{"offset":0.625,"color":"rgba(255,255,255,0)"},{"offset":0.625,"color":"#3c9628"},{"offset":0.6875,"color":"#3c9628"},{"offset":0.6875,"color":"rgba(255,255,255,0)"},{"offset":0.75,"color":"rgba(255,255,255,0)"},{"offset":0.75,"color":"#3c9628"},{"offset":0.8125,"color":"#3c9628"},{"offset":0.8125,"color":"rgba(255,255,255,0)"},{"offset":0.875,"color":"rgba(255,255,255,0)"},{"offset":0.875,"color":"#3c9628"},{"offset":0.9375,"color":"#3c9628"},{"offset":0.9375,"color":"rgba(255,255,255,0)"},{"offset":1,"color":"rgba(255,255,255,0)"}]}},
   "encoding":{"x":{"field":"p0","type":"quantitative"},"x2":{"field":"p1"},"y":{"field":"lo","type":"quantitative"},"y2":{"field":"hi"}}},
  {"data":{"name":"ftf"},"transform":[{"filter":"datum.panel == 'D'"}],"mark":{"type":"line","color":"#c8c8c8","strokeWidth":2.5,"interpolate":"monotone","clip":true},"encoding":{"x":{"field":"p","type":"quantitative"},"y":{"field":"v","type":"quantitative"}}},
  {"data":{"name":"epos"},"transform":[{"filter":"datum.panel == 'D'"}],"mark":{"type":"line","color":"black","strokeWidth":1.8,"strokeDash":[1.8,2.2],"interpolate":"monotone","clip":true},"encoding":{"x":{"field":"p","type":"quantitative"},"y":{"field":"v","type":"quantitative"}}},
  {"data":{"name":"pts"},"transform":[{"filter":"datum.panel == 'D'"}],"mark":{"type":"rule","color":"#ff0000","strokeWidth":2.5},"encoding":{"x":{"field":"plo","type":"quantitative"},"x2":{"field":"phi"},"y":{"field":"v","type":"quantitative"}}},
  {"data":{"name":"pts"},"transform":[{"filter":"datum.panel == 'D'"}],"mark":{"type":"rule","color":"#ff0000","strokeWidth":2.5},"encoding":{"x":{"field":"p","type":"quantitative"},"y":{"field":"vlo","type":"quantitative"},"y2":{"field":"vhi"}}},
  {"data":{"name":"pts"},"transform":[{"filter":"datum.panel == 'D'"}],"mark":{"type":"circle","color":"#ff0000","size":50},"encoding":{"x":{"field":"p","type":"quantitative"},"y":{"field":"v","type":"quantitative"}}},
  {"data":{"name":"titles"},"transform":[{"filter":"datum.panel == 'D'"}],"mark":{"type":"text","align":"left","baseline":"alphabetic","fontSize":19,"color":"black"},"encoding":{"x":{"datum":10.07,"type":"quantitative"},"y":{"datum":0.0887,"type":"quantitative"},"text":{"field":"label"}}}
 ]
},
{"width": 299, "height": 82, "view": {"stroke": null}, "data": {"values": []}, "mark": "point"},
{"width": 298, "height": 82, "view": {"stroke": null}, "data": {"values": []}, "mark": "point"},
{
 "width": 299, "height": 202,
 "layer": [
  {"data":{"name":"boxes"},"transform":[{"filter":"datum.panel == 'E' && datum.model == 'qc'"}],
   "mark":{"type":"rect","fill":{"gradient":"linear","x1":0,"y1":0,"x2":1,"y2":1,"stops":[{"offset":0,"color":"#a0cd32"},{"offset":0.0625,"color":"#a0cd32"},{"offset":0.0625,"color":"rgba(255,255,255,0)"},{"offset":0.125,"color":"rgba(255,255,255,0)"},{"offset":0.125,"color":"#a0cd32"},{"offset":0.1875,"color":"#a0cd32"},{"offset":0.1875,"color":"rgba(255,255,255,0)"},{"offset":0.25,"color":"rgba(255,255,255,0)"},{"offset":0.25,"color":"#a0cd32"},{"offset":0.3125,"color":"#a0cd32"},{"offset":0.3125,"color":"rgba(255,255,255,0)"},{"offset":0.375,"color":"rgba(255,255,255,0)"},{"offset":0.375,"color":"#a0cd32"},{"offset":0.4375,"color":"#a0cd32"},{"offset":0.4375,"color":"rgba(255,255,255,0)"},{"offset":0.5,"color":"rgba(255,255,255,0)"},{"offset":0.5,"color":"#a0cd32"},{"offset":0.5625,"color":"#a0cd32"},{"offset":0.5625,"color":"rgba(255,255,255,0)"},{"offset":0.625,"color":"rgba(255,255,255,0)"},{"offset":0.625,"color":"#a0cd32"},{"offset":0.6875,"color":"#a0cd32"},{"offset":0.6875,"color":"rgba(255,255,255,0)"},{"offset":0.75,"color":"rgba(255,255,255,0)"},{"offset":0.75,"color":"#a0cd32"},{"offset":0.8125,"color":"#a0cd32"},{"offset":0.8125,"color":"rgba(255,255,255,0)"},{"offset":0.875,"color":"rgba(255,255,255,0)"},{"offset":0.875,"color":"#a0cd32"},{"offset":0.9375,"color":"#a0cd32"},{"offset":0.9375,"color":"rgba(255,255,255,0)"},{"offset":1,"color":"rgba(255,255,255,0)"}]}},
   "encoding":{
     "x":{"field":"p0","type":"quantitative","scale":{"domain":[0,12],"nice":false,"zero":false},"axis":{"values":[2.5,5,7.5,10],"labels":false,"title":null,"tickSize":-5}},
     "x2":{"field":"p1"},
     "y":{"field":"lo","type":"quantitative","scale":{"domain":[0,0.1188],"nice":false,"zero":false},"axis":{"values":[0.025,0.05,0.075,0.1],"labelExpr":"datum.value == 0.05 || datum.value == 0.1 ? datum.label : ''","format":"~g","tickSize":-10,"labelPadding":16,"title":"d²n/(dpdθ) [(rad.GeV/c)⁻¹]","titleX":-56,"titleY":202,"titleAngle":-90,"titleAlign":"center","titleBaseline":"middle","titleFontSize":20}},
     "y2":{"field":"hi"}}},
  {"data":{"name":"boxes"},"transform":[{"filter":"datum.panel == 'E' && datum.model == 'iso'"}],
   "mark":{"type":"rect","fill":{"gradient":"linear","x1":0,"y1":1,"x2":1,"y2":0,"stops":[{"offset":0,"color":"#3c9628"},{"offset":0.0625,"color":"#3c9628"},{"offset":0.0625,"color":"rgba(255,255,255,0)"},{"offset":0.125,"color":"rgba(255,255,255,0)"},{"offset":0.125,"color":"#3c9628"},{"offset":0.1875,"color":"#3c9628"},{"offset":0.1875,"color":"rgba(255,255,255,0)"},{"offset":0.25,"color":"rgba(255,255,255,0)"},{"offset":0.25,"color":"#3c9628"},{"offset":0.3125,"color":"#3c9628"},{"offset":0.3125,"color":"rgba(255,255,255,0)"},{"offset":0.375,"color":"rgba(255,255,255,0)"},{"offset":0.375,"color":"#3c9628"},{"offset":0.4375,"color":"#3c9628"},{"offset":0.4375,"color":"rgba(255,255,255,0)"},{"offset":0.5,"color":"rgba(255,255,255,0)"},{"offset":0.5,"color":"#3c9628"},{"offset":0.5625,"color":"#3c9628"},{"offset":0.5625,"color":"rgba(255,255,255,0)"},{"offset":0.625,"color":"rgba(255,255,255,0)"},{"offset":0.625,"color":"#3c9628"},{"offset":0.6875,"color":"#3c9628"},{"offset":0.6875,"color":"rgba(255,255,255,0)"},{"offset":0.75,"color":"rgba(255,255,255,0)"},{"offset":0.75,"color":"#3c9628"},{"offset":0.8125,"color":"#3c9628"},{"offset":0.8125,"color":"rgba(255,255,255,0)"},{"offset":0.875,"color":"rgba(255,255,255,0)"},{"offset":0.875,"color":"#3c9628"},{"offset":0.9375,"color":"#3c9628"},{"offset":0.9375,"color":"rgba(255,255,255,0)"},{"offset":1,"color":"rgba(255,255,255,0)"}]}},
   "encoding":{"x":{"field":"p0","type":"quantitative"},"x2":{"field":"p1"},"y":{"field":"lo","type":"quantitative"},"y2":{"field":"hi"}}},
  {"data":{"name":"ftf"},"transform":[{"filter":"datum.panel == 'E'"}],"mark":{"type":"line","color":"#c8c8c8","strokeWidth":2.5,"interpolate":"monotone","clip":true},"encoding":{"x":{"field":"p","type":"quantitative"},"y":{"field":"v","type":"quantitative"}}},
  {"data":{"name":"epos"},"transform":[{"filter":"datum.panel == 'E'"}],"mark":{"type":"line","color":"black","strokeWidth":1.8,"strokeDash":[1.8,2.2],"interpolate":"monotone","clip":true},"encoding":{"x":{"field":"p","type":"quantitative"},"y":{"field":"v","type":"quantitative"}}},
  {"data":{"name":"pts"},"transform":[{"filter":"datum.panel == 'E'"}],"mark":{"type":"rule","color":"#ff0000","strokeWidth":2.5},"encoding":{"x":{"field":"plo","type":"quantitative"},"x2":{"field":"phi"},"y":{"field":"v","type":"quantitative"}}},
  {"data":{"name":"pts"},"transform":[{"filter":"datum.panel == 'E'"}],"mark":{"type":"rule","color":"#ff0000","strokeWidth":2.5},"encoding":{"x":{"field":"p","type":"quantitative"},"y":{"field":"vlo","type":"quantitative"},"y2":{"field":"vhi"}}},
  {"data":{"name":"pts"},"transform":[{"filter":"datum.panel == 'E'"}],"mark":{"type":"circle","color":"#ff0000","size":50},"encoding":{"x":{"field":"p","type":"quantitative"},"y":{"field":"v","type":"quantitative"}}},
  {"data":{"name":"titles"},"transform":[{"filter":"datum.panel == 'E'"}],"mark":{"type":"text","align":"left","baseline":"alphabetic","fontSize":19,"color":"black"},"encoding":{"x":{"datum":4.46,"type":"quantitative"},"y":{"datum":0.0951,"type":"quantitative"},"text":{"field":"label"}}}
 ]
},
{
 "width": 298, "height": 202,
 "layer": [
  {"data":{"name":"boxes"},"transform":[{"filter":"datum.panel == 'F' && datum.model == 'qc'"}],
   "mark":{"type":"rect","fill":{"gradient":"linear","x1":0,"y1":0,"x2":1,"y2":1,"stops":[{"offset":0,"color":"#a0cd32"},{"offset":0.0625,"color":"#a0cd32"},{"offset":0.0625,"color":"rgba(255,255,255,0)"},{"offset":0.125,"color":"rgba(255,255,255,0)"},{"offset":0.125,"color":"#a0cd32"},{"offset":0.1875,"color":"#a0cd32"},{"offset":0.1875,"color":"rgba(255,255,255,0)"},{"offset":0.25,"color":"rgba(255,255,255,0)"},{"offset":0.25,"color":"#a0cd32"},{"offset":0.3125,"color":"#a0cd32"},{"offset":0.3125,"color":"rgba(255,255,255,0)"},{"offset":0.375,"color":"rgba(255,255,255,0)"},{"offset":0.375,"color":"#a0cd32"},{"offset":0.4375,"color":"#a0cd32"},{"offset":0.4375,"color":"rgba(255,255,255,0)"},{"offset":0.5,"color":"rgba(255,255,255,0)"},{"offset":0.5,"color":"#a0cd32"},{"offset":0.5625,"color":"#a0cd32"},{"offset":0.5625,"color":"rgba(255,255,255,0)"},{"offset":0.625,"color":"rgba(255,255,255,0)"},{"offset":0.625,"color":"#a0cd32"},{"offset":0.6875,"color":"#a0cd32"},{"offset":0.6875,"color":"rgba(255,255,255,0)"},{"offset":0.75,"color":"rgba(255,255,255,0)"},{"offset":0.75,"color":"#a0cd32"},{"offset":0.8125,"color":"#a0cd32"},{"offset":0.8125,"color":"rgba(255,255,255,0)"},{"offset":0.875,"color":"rgba(255,255,255,0)"},{"offset":0.875,"color":"#a0cd32"},{"offset":0.9375,"color":"#a0cd32"},{"offset":0.9375,"color":"rgba(255,255,255,0)"},{"offset":1,"color":"rgba(255,255,255,0)"}]}},
   "encoding":{
     "x":{"field":"p0","type":"quantitative","scale":{"domain":[0,12],"nice":false,"zero":false},"axis":{"values":[2.5,5,7.5,10],"labelExpr":"datum.value % 5 == 0 ? datum.label : ''","format":"~g","labelPadding":7,"tickSize":-5,"title":"p [GeV/c]","titleX":290,"titleY":37,"titleAlign":"right","titleBaseline":"alphabetic"}},
     "x2":{"field":"p1"},
     "y":{"field":"lo","type":"quantitative","scale":{"domain":[0,0.1188],"nice":false,"zero":false},"axis":{"values":[0.025,0.05,0.075,0.1],"labels":false,"tickSize":-10,"title":null}},
     "y2":{"field":"hi"}}},
  {"data":{"name":"boxes"},"transform":[{"filter":"datum.panel == 'F' && datum.model == 'iso'"}],
   "mark":{"type":"rect","fill":{"gradient":"linear","x1":0,"y1":1,"x2":1,"y2":0,"stops":[{"offset":0,"color":"#3c9628"},{"offset":0.0625,"color":"#3c9628"},{"offset":0.0625,"color":"rgba(255,255,255,0)"},{"offset":0.125,"color":"rgba(255,255,255,0)"},{"offset":0.125,"color":"#3c9628"},{"offset":0.1875,"color":"#3c9628"},{"offset":0.1875,"color":"rgba(255,255,255,0)"},{"offset":0.25,"color":"rgba(255,255,255,0)"},{"offset":0.25,"color":"#3c9628"},{"offset":0.3125,"color":"#3c9628"},{"offset":0.3125,"color":"rgba(255,255,255,0)"},{"offset":0.375,"color":"rgba(255,255,255,0)"},{"offset":0.375,"color":"#3c9628"},{"offset":0.4375,"color":"#3c9628"},{"offset":0.4375,"color":"rgba(255,255,255,0)"},{"offset":0.5,"color":"rgba(255,255,255,0)"},{"offset":0.5,"color":"#3c9628"},{"offset":0.5625,"color":"#3c9628"},{"offset":0.5625,"color":"rgba(255,255,255,0)"},{"offset":0.625,"color":"rgba(255,255,255,0)"},{"offset":0.625,"color":"#3c9628"},{"offset":0.6875,"color":"#3c9628"},{"offset":0.6875,"color":"rgba(255,255,255,0)"},{"offset":0.75,"color":"rgba(255,255,255,0)"},{"offset":0.75,"color":"#3c9628"},{"offset":0.8125,"color":"#3c9628"},{"offset":0.8125,"color":"rgba(255,255,255,0)"},{"offset":0.875,"color":"rgba(255,255,255,0)"},{"offset":0.875,"color":"#3c9628"},{"offset":0.9375,"color":"#3c9628"},{"offset":0.9375,"color":"rgba(255,255,255,0)"},{"offset":1,"color":"rgba(255,255,255,0)"}]}},
   "encoding":{"x":{"field":"p0","type":"quantitative"},"x2":{"field":"p1"},"y":{"field":"lo","type":"quantitative"},"y2":{"field":"hi"}}},
  {"data":{"name":"ftf"},"transform":[{"filter":"datum.panel == 'F'"}],"mark":{"type":"line","color":"#c8c8c8","strokeWidth":2.5,"interpolate":"monotone","clip":true},"encoding":{"x":{"field":"p","type":"quantitative"},"y":{"field":"v","type":"quantitative"}}},
  {"data":{"name":"epos"},"transform":[{"filter":"datum.panel == 'F'"}],"mark":{"type":"line","color":"black","strokeWidth":1.8,"strokeDash":[1.8,2.2],"interpolate":"monotone","clip":true},"encoding":{"x":{"field":"p","type":"quantitative"},"y":{"field":"v","type":"quantitative"}}},
  {"data":{"name":"pts"},"transform":[{"filter":"datum.panel == 'F'"}],"mark":{"type":"rule","color":"#ff0000","strokeWidth":2.5},"encoding":{"x":{"field":"plo","type":"quantitative"},"x2":{"field":"phi"},"y":{"field":"v","type":"quantitative"}}},
  {"data":{"name":"pts"},"transform":[{"filter":"datum.panel == 'F'"}],"mark":{"type":"rule","color":"#ff0000","strokeWidth":2.5},"encoding":{"x":{"field":"p","type":"quantitative"},"y":{"field":"vlo","type":"quantitative"},"y2":{"field":"vhi"}}},
  {"data":{"name":"pts"},"transform":[{"filter":"datum.panel == 'F'"}],"mark":{"type":"circle","color":"#ff0000","size":50},"encoding":{"x":{"field":"p","type":"quantitative"},"y":{"field":"v","type":"quantitative"}}},
  {"data":{"name":"titles"},"transform":[{"filter":"datum.panel == 'F'"}],"mark":{"type":"text","align":"left","baseline":"alphabetic","fontSize":19,"color":"black"},"encoding":{"x":{"datum":5.41,"type":"quantitative"},"y":{"datum":0.0951,"type":"quantitative"},"text":{"field":"label"}}}
 ]
},
{
 "width": 299, "height": 202,
 "layer": [
  {"data":{"name":"boxes"},"transform":[{"filter":"datum.panel == 'G' && datum.model == 'qc'"}],
   "mark":{"type":"rect","fill":{"gradient":"linear","x1":0,"y1":0,"x2":1,"y2":1,"stops":[{"offset":0,"color":"#a0cd32"},{"offset":0.0625,"color":"#a0cd32"},{"offset":0.0625,"color":"rgba(255,255,255,0)"},{"offset":0.125,"color":"rgba(255,255,255,0)"},{"offset":0.125,"color":"#a0cd32"},{"offset":0.1875,"color":"#a0cd32"},{"offset":0.1875,"color":"rgba(255,255,255,0)"},{"offset":0.25,"color":"rgba(255,255,255,0)"},{"offset":0.25,"color":"#a0cd32"},{"offset":0.3125,"color":"#a0cd32"},{"offset":0.3125,"color":"rgba(255,255,255,0)"},{"offset":0.375,"color":"rgba(255,255,255,0)"},{"offset":0.375,"color":"#a0cd32"},{"offset":0.4375,"color":"#a0cd32"},{"offset":0.4375,"color":"rgba(255,255,255,0)"},{"offset":0.5,"color":"rgba(255,255,255,0)"},{"offset":0.5,"color":"#a0cd32"},{"offset":0.5625,"color":"#a0cd32"},{"offset":0.5625,"color":"rgba(255,255,255,0)"},{"offset":0.625,"color":"rgba(255,255,255,0)"},{"offset":0.625,"color":"#a0cd32"},{"offset":0.6875,"color":"#a0cd32"},{"offset":0.6875,"color":"rgba(255,255,255,0)"},{"offset":0.75,"color":"rgba(255,255,255,0)"},{"offset":0.75,"color":"#a0cd32"},{"offset":0.8125,"color":"#a0cd32"},{"offset":0.8125,"color":"rgba(255,255,255,0)"},{"offset":0.875,"color":"rgba(255,255,255,0)"},{"offset":0.875,"color":"#a0cd32"},{"offset":0.9375,"color":"#a0cd32"},{"offset":0.9375,"color":"rgba(255,255,255,0)"},{"offset":1,"color":"rgba(255,255,255,0)"}]}},
   "encoding":{
     "x":{"field":"p0","type":"quantitative","scale":{"domain":[0,12],"nice":false,"zero":false},"axis":{"values":[2.5,5,7.5,10],"labelExpr":"datum.value % 5 == 0 ? datum.label : ''","format":"~g","labelPadding":7,"tickSize":-5,"title":"p [GeV/c]","titleX":276,"titleY":36,"titleAlign":"right","titleBaseline":"alphabetic"}},
     "x2":{"field":"p1"},
     "y":{"field":"lo","type":"quantitative","scale":{"domain":[0,0.109],"nice":false,"zero":false},"axis":{"values":[0.025,0.05,0.075,0.1],"labelExpr":"datum.value == 0.05 || datum.value == 0.1 ? datum.label : ''","format":"~g","tickSize":-10,"labelPadding":16,"title":null}},
     "y2":{"field":"hi"}}},
  {"data":{"name":"boxes"},"transform":[{"filter":"datum.panel == 'G' && datum.model == 'iso'"}],
   "mark":{"type":"rect","fill":{"gradient":"linear","x1":0,"y1":1,"x2":1,"y2":0,"stops":[{"offset":0,"color":"#3c9628"},{"offset":0.0625,"color":"#3c9628"},{"offset":0.0625,"color":"rgba(255,255,255,0)"},{"offset":0.125,"color":"rgba(255,255,255,0)"},{"offset":0.125,"color":"#3c9628"},{"offset":0.1875,"color":"#3c9628"},{"offset":0.1875,"color":"rgba(255,255,255,0)"},{"offset":0.25,"color":"rgba(255,255,255,0)"},{"offset":0.25,"color":"#3c9628"},{"offset":0.3125,"color":"#3c9628"},{"offset":0.3125,"color":"rgba(255,255,255,0)"},{"offset":0.375,"color":"rgba(255,255,255,0)"},{"offset":0.375,"color":"#3c9628"},{"offset":0.4375,"color":"#3c9628"},{"offset":0.4375,"color":"rgba(255,255,255,0)"},{"offset":0.5,"color":"rgba(255,255,255,0)"},{"offset":0.5,"color":"#3c9628"},{"offset":0.5625,"color":"#3c9628"},{"offset":0.5625,"color":"rgba(255,255,255,0)"},{"offset":0.625,"color":"rgba(255,255,255,0)"},{"offset":0.625,"color":"#3c9628"},{"offset":0.6875,"color":"#3c9628"},{"offset":0.6875,"color":"rgba(255,255,255,0)"},{"offset":0.75,"color":"rgba(255,255,255,0)"},{"offset":0.75,"color":"#3c9628"},{"offset":0.8125,"color":"#3c9628"},{"offset":0.8125,"color":"rgba(255,255,255,0)"},{"offset":0.875,"color":"rgba(255,255,255,0)"},{"offset":0.875,"color":"#3c9628"},{"offset":0.9375,"color":"#3c9628"},{"offset":0.9375,"color":"rgba(255,255,255,0)"},{"offset":1,"color":"rgba(255,255,255,0)"}]}},
   "encoding":{"x":{"field":"p0","type":"quantitative"},"x2":{"field":"p1"},"y":{"field":"lo","type":"quantitative"},"y2":{"field":"hi"}}},
  {"data":{"name":"ftf"},"transform":[{"filter":"datum.panel == 'G'"}],"mark":{"type":"line","color":"#c8c8c8","strokeWidth":2.5,"interpolate":"monotone","clip":true},"encoding":{"x":{"field":"p","type":"quantitative"},"y":{"field":"v","type":"quantitative"}}},
  {"data":{"name":"epos"},"transform":[{"filter":"datum.panel == 'G'"}],"mark":{"type":"line","color":"black","strokeWidth":1.8,"strokeDash":[1.8,2.2],"interpolate":"monotone","clip":true},"encoding":{"x":{"field":"p","type":"quantitative"},"y":{"field":"v","type":"quantitative"}}},
  {"data":{"name":"pts"},"transform":[{"filter":"datum.panel == 'G'"}],"mark":{"type":"rule","color":"#ff0000","strokeWidth":2.5,"clip":true},"encoding":{"x":{"field":"plo","type":"quantitative"},"x2":{"field":"phi"},"y":{"field":"v","type":"quantitative"}}},
  {"data":{"name":"pts"},"transform":[{"filter":"datum.panel == 'G'"}],"mark":{"type":"rule","color":"#ff0000","strokeWidth":2.5},"encoding":{"x":{"field":"p","type":"quantitative"},"y":{"field":"vlo","type":"quantitative"},"y2":{"field":"vhi"}}},
  {"data":{"name":"pts"},"transform":[{"filter":"datum.panel == 'G'"}],"mark":{"type":"circle","color":"#ff0000","size":50},"encoding":{"x":{"field":"p","type":"quantitative"},"y":{"field":"v","type":"quantitative"}}},
  {"data":{"name":"titles"},"transform":[{"filter":"datum.panel == 'G'"}],"mark":{"type":"text","align":"left","baseline":"alphabetic","fontSize":19,"color":"black"},"encoding":{"x":{"datum":4.43,"type":"quantitative"},"y":{"datum":0.0847,"type":"quantitative"},"text":{"field":"label"}}}
 ]
},
{
 "width": 298, "height": 202,
 "view": {"stroke": null},
 "layer": [
  {"data":{"name":"legend"},"transform":[{"filter":"datum.item == 'data'"}],"mark":{"type":"rule","color":"#ff0000","strokeWidth":2.5},
   "encoding":{"x":{"datum":0.046,"type":"quantitative","scale":{"domain":[0,1],"nice":false,"zero":false},"axis":null},"x2":{"datum":0.13},"y":{"field":"order","type":"quantitative","scale":{"domain":[0.034,5.456],"nice":false,"zero":false,"reverse":true},"axis":null}}},
  {"data":{"name":"legend"},"transform":[{"filter":"datum.item == 'data'"}],"mark":{"type":"tick","orient":"vertical","size":40,"thickness":2.5,"color":"#ff0000"},
   "encoding":{"x":{"datum":0.088,"type":"quantitative"},"y":{"field":"order","type":"quantitative"}}},
  {"data":{"name":"legend"},"transform":[{"filter":"datum.item == 'data'"}],"mark":{"type":"circle","color":"#ff0000","size":50},
   "encoding":{"x":{"datum":0.088,"type":"quantitative"},"y":{"field":"order","type":"quantitative"}}},
  {"data":{"name":"legend"},"transform":[{"filter":"datum.item == 'ftf'"}],"mark":{"type":"rule","color":"#c8c8c8","strokeWidth":2.5},
   "encoding":{"x":{"datum":0.046,"type":"quantitative"},"x2":{"datum":0.13},"y":{"field":"order","type":"quantitative"}}},
  {"data":{"name":"legend"},"transform":[{"filter":"datum.item == 'epos'"}],"mark":{"type":"rule","color":"black","strokeWidth":1.8,"strokeDash":[1.8,2.2]},
   "encoding":{"x":{"datum":0.046,"type":"quantitative"},"x2":{"datum":0.13},"y":{"field":"order","type":"quantitative"}}},
  {"data":{"name":"legend"},"transform":[{"filter":"datum.item == 'iso'"}],"mark":{"type":"point","shape":"M-1,-0.88H1V0.88H-1Z","size":625,"filled":true,"stroke":"#3c9628","strokeWidth":1.5,"fill":{"gradient":"linear","x1":0,"y1":1,"x2":1,"y2":0,"stops":[{"offset":0,"color":"#3c9628"},{"offset":0.0625,"color":"#3c9628"},{"offset":0.0625,"color":"rgba(255,255,255,0)"},{"offset":0.125,"color":"rgba(255,255,255,0)"},{"offset":0.125,"color":"#3c9628"},{"offset":0.1875,"color":"#3c9628"},{"offset":0.1875,"color":"rgba(255,255,255,0)"},{"offset":0.25,"color":"rgba(255,255,255,0)"},{"offset":0.25,"color":"#3c9628"},{"offset":0.3125,"color":"#3c9628"},{"offset":0.3125,"color":"rgba(255,255,255,0)"},{"offset":0.375,"color":"rgba(255,255,255,0)"},{"offset":0.375,"color":"#3c9628"},{"offset":0.4375,"color":"#3c9628"},{"offset":0.4375,"color":"rgba(255,255,255,0)"},{"offset":0.5,"color":"rgba(255,255,255,0)"},{"offset":0.5,"color":"#3c9628"},{"offset":0.5625,"color":"#3c9628"},{"offset":0.5625,"color":"rgba(255,255,255,0)"},{"offset":0.625,"color":"rgba(255,255,255,0)"},{"offset":0.625,"color":"#3c9628"},{"offset":0.6875,"color":"#3c9628"},{"offset":0.6875,"color":"rgba(255,255,255,0)"},{"offset":0.75,"color":"rgba(255,255,255,0)"},{"offset":0.75,"color":"#3c9628"},{"offset":0.8125,"color":"#3c9628"},{"offset":0.8125,"color":"rgba(255,255,255,0)"},{"offset":0.875,"color":"rgba(255,255,255,0)"},{"offset":0.875,"color":"#3c9628"},{"offset":0.9375,"color":"#3c9628"},{"offset":0.9375,"color":"rgba(255,255,255,0)"},{"offset":1,"color":"rgba(255,255,255,0)"}]}},
   "encoding":{"x":{"datum":0.088,"type":"quantitative"},"y":{"field":"order","type":"quantitative"}}},
  {"data":{"name":"legend"},"transform":[{"filter":"datum.item == 'qc'"}],"mark":{"type":"point","shape":"M-1,-0.88H1V0.88H-1Z","size":625,"filled":true,"stroke":"#a0cd32","strokeWidth":1.5,"fill":{"gradient":"linear","x1":0,"y1":0,"x2":1,"y2":1,"stops":[{"offset":0,"color":"#a0cd32"},{"offset":0.0625,"color":"#a0cd32"},{"offset":0.0625,"color":"rgba(255,255,255,0)"},{"offset":0.125,"color":"rgba(255,255,255,0)"},{"offset":0.125,"color":"#a0cd32"},{"offset":0.1875,"color":"#a0cd32"},{"offset":0.1875,"color":"rgba(255,255,255,0)"},{"offset":0.25,"color":"rgba(255,255,255,0)"},{"offset":0.25,"color":"#a0cd32"},{"offset":0.3125,"color":"#a0cd32"},{"offset":0.3125,"color":"rgba(255,255,255,0)"},{"offset":0.375,"color":"rgba(255,255,255,0)"},{"offset":0.375,"color":"#a0cd32"},{"offset":0.4375,"color":"#a0cd32"},{"offset":0.4375,"color":"rgba(255,255,255,0)"},{"offset":0.5,"color":"rgba(255,255,255,0)"},{"offset":0.5,"color":"#a0cd32"},{"offset":0.5625,"color":"#a0cd32"},{"offset":0.5625,"color":"rgba(255,255,255,0)"},{"offset":0.625,"color":"rgba(255,255,255,0)"},{"offset":0.625,"color":"#a0cd32"},{"offset":0.6875,"color":"#a0cd32"},{"offset":0.6875,"color":"rgba(255,255,255,0)"},{"offset":0.75,"color":"rgba(255,255,255,0)"},{"offset":0.75,"color":"#a0cd32"},{"offset":0.8125,"color":"#a0cd32"},{"offset":0.8125,"color":"rgba(255,255,255,0)"},{"offset":0.875,"color":"rgba(255,255,255,0)"},{"offset":0.875,"color":"#a0cd32"},{"offset":0.9375,"color":"#a0cd32"},{"offset":0.9375,"color":"rgba(255,255,255,0)"},{"offset":1,"color":"rgba(255,255,255,0)"}]}},
   "encoding":{"x":{"datum":0.088,"type":"quantitative"},"y":{"field":"order","type":"quantitative"}}},
  {"data":{"name":"legend"},"mark":{"type":"text","align":"left","baseline":"middle","fontSize":19,"color":"black"},
   "encoding":{"x":{"datum":0.149,"type":"quantitative"},"y":{"field":"order","type":"quantitative"},"text":{"field":"label"}}}
 ]
}
]
}
